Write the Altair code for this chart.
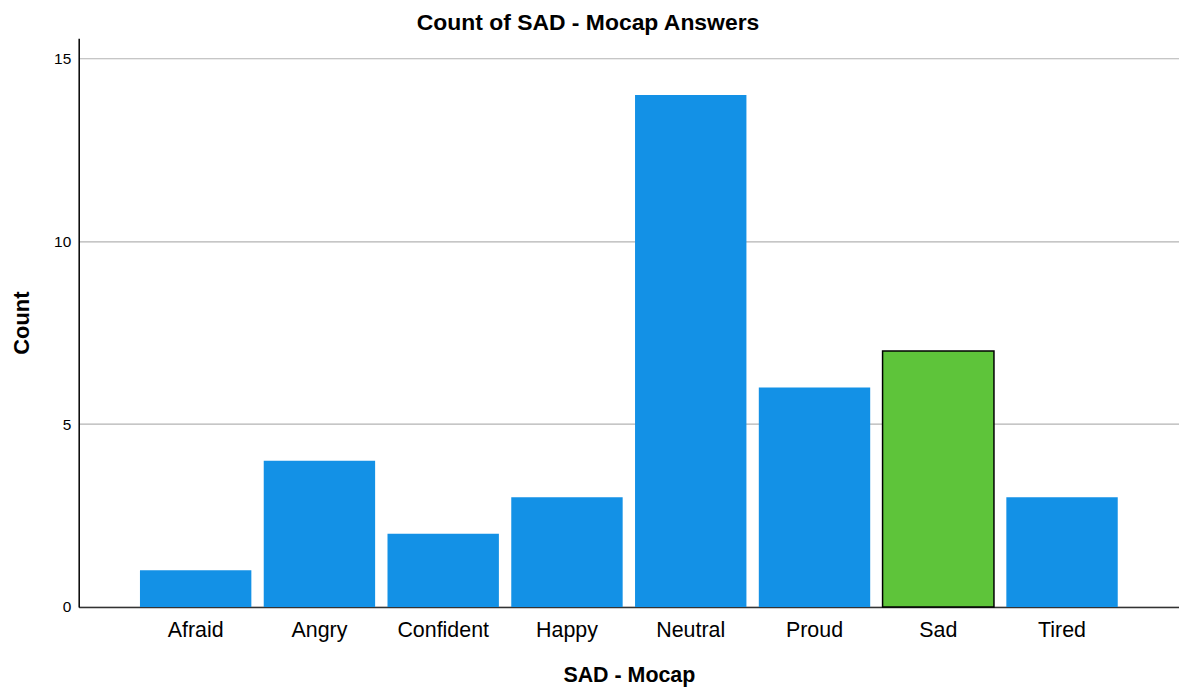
import altair as alt
import pandas as pd

categories = ["Afraid", "Angry", "Confident", "Happy", "Neutral", "Proud", "Sad", "Tired"]
counts = [1, 4, 2, 3, 14, 6, 7, 3]
highlight = ["no", "no", "no", "no", "no", "no", "yes", "no"]

df = pd.DataFrame({"cat": categories, "count": counts, "hl": highlight})

bars = alt.Chart(df).mark_bar().encode(
    x=alt.X("cat:N", sort=categories,
            scale=alt.Scale(paddingInner=0.1, paddingOuter=0.495),
            axis=alt.Axis(title="SAD - Mocap", labelAngle=0, labelFontSize=21.5,
                          labelFont="Liberation Sans", labelColor="#000000",
                          labelPadding=13, ticks=False, domainColor="#333333",
                          domainWidth=1.5, titleFontSize=21.5, titleFont="Liberation Sans",
                          titleFontWeight="bold", titlePadding=23, titleColor="#000000")),
    y=alt.Y("count:Q",
            scale=alt.Scale(domain=[0, 15.55], nice=False),
            axis=alt.Axis(title="Count", values=[0, 5, 10, 15], labelFontSize=15.5,
                          labelFont="Liberation Sans", labelColor="#000000",
                          labelPadding=8, ticks=False, domainColor="#000000",
                          domainWidth=1.5, gridColor="#b3b3b3", gridWidth=1.2,
                          titleFontSize=22, titleFont="Liberation Sans",
                          titleFontWeight="bold", titlePadding=20, titleColor="#000000")),
    color=alt.Color("hl:N", scale=alt.Scale(domain=["no", "yes"], range=["#1391e6", "#5ec43a"]),
                    legend=None),
    stroke=alt.Stroke("hl:N", scale=alt.Scale(domain=["no", "yes"], range=["transparent", "#000000"]),
                      legend=None),
    strokeWidth=alt.StrokeWidth("hl:N", scale=alt.Scale(domain=["no", "yes"], range=[0, 1.5]),
                                legend=None),
)

chart = bars.properties(
    width=1105,
    height=571,
    title=alt.TitleParams("Count of SAD - Mocap Answers", fontSize=23, font="Liberation Sans",
                          fontWeight="bold", color="#000000", anchor="middle", dx=-41, offset=3),
    autosize=alt.AutoSizeParams(type="none"),
    padding={"left": 71, "top": 29, "right": 0, "bottom": 80},
).configure_view(stroke=None)

chart.save("out.html", embed_options={"renderer": "svg", "actions": False})
